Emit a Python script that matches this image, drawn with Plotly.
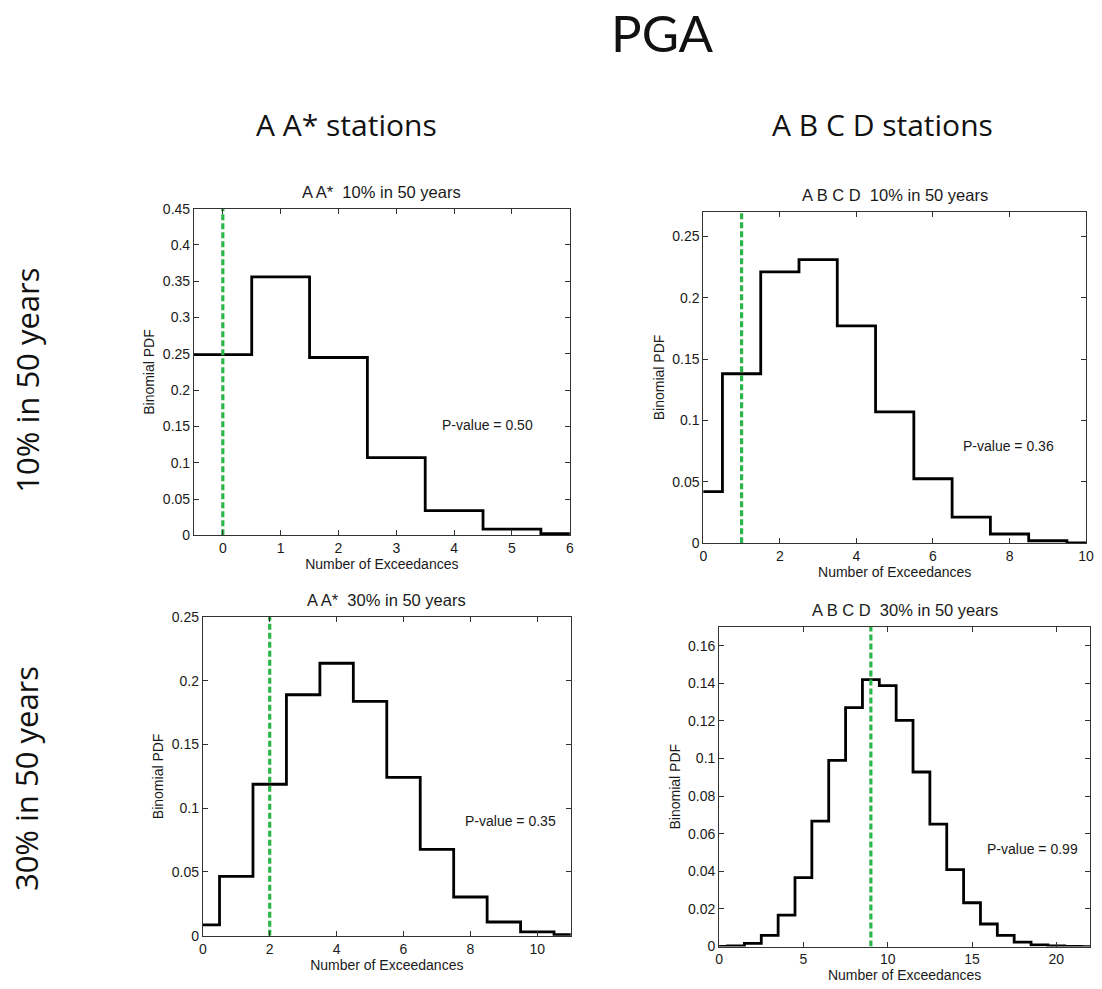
import plotly.graph_objects as go

# ---------------- data ----------------
tl_k = [0, 1, 2, 3, 4, 5, 6]
tl_pdf = [0.249, 0.356, 0.245, 0.107, 0.034, 0.0086, 0.0023]
tl_obs = 0
tl_p = "P-value = 0.50"

tr_k = [0, 1, 2, 3, 4, 5, 6, 7, 8, 9, 10]
tr_pdf = [0.042, 0.138, 0.221, 0.231, 0.177, 0.107, 0.0525, 0.0213, 0.0075, 0.002, 0.0003]
tr_obs = 1
tr_p = "P-value = 0.36"

bl_k = [0, 1, 2, 3, 4, 5, 6, 7, 8, 9, 10, 11]
bl_pdf = [0.0085, 0.0466, 0.1188, 0.189, 0.2137, 0.1838, 0.1242, 0.0678, 0.0304, 0.0108, 0.003, 0.0008]
bl_obs = 2
bl_p = "P-value = 0.35"

br_k = list(range(0, 23))
br_pdf = [0.0001, 0.0004, 0.0017, 0.0059, 0.0167, 0.0367, 0.0667, 0.099, 0.127, 0.1419,
          0.1387, 0.1203, 0.0928, 0.0651, 0.0409, 0.0233, 0.012, 0.0059, 0.0024, 0.0009,
          0.0003, 0.0001, 0.0]
br_obs = 9
br_p = "P-value = 0.99"

titles = ["A A*  10% in 50 years", "A B C D  10% in 50 years",
          "A A*  30% in 50 years", "A B C D  30% in 50 years"]

tl_yticks = [0, 0.05, 0.1, 0.15, 0.2, 0.25, 0.3, 0.35, 0.4, 0.45]
tl_ylabels = ["0", "0.05", "0.1", "0.15", "0.2", "0.25", "0.3", "0.35", "0.4", "0.45"]
tr_yticks = [0, 0.05, 0.1, 0.15, 0.2, 0.25]
tr_ylabels = ["0", "0.05", "0.1", "0.15", "0.2", "0.25"]
bl_yticks = [0, 0.05, 0.1, 0.15, 0.2, 0.25]
bl_ylabels = ["0", "0.05", "0.1", "0.15", "0.2", "0.25"]
br_yticks = [0, 0.02, 0.04, 0.06, 0.08, 0.1, 0.12, 0.14, 0.16]
br_ylabels = ["0", "0.02", "0.04", "0.06", "0.08", "0.1", "0.12", "0.14", "0.16"]

tl_xticks = [0, 1, 2, 3, 4, 5, 6]
tr_xticks = [0, 2, 4, 6, 8, 10]
bl_xticks = [0, 2, 4, 6, 8, 10]
br_xticks = [0, 5, 10, 15, 20]

# ---------------- layout ----------------
W, H = 1102, 989
FONT = "Liberation Sans, Arial, sans-serif"
HFONT = "Open Sans, Lato, sans-serif"
PFONT = "Lato, Open Sans, sans-serif"
GREEN = "#2bb64a"
TXT = "#1a1a1a"

panels = [
    # k, pdf, obs, ptext, px(data), py(data), xrange, yrange, yticks, ylabels, xticks, box(px: l,r,t,b)
    (tl_k, tl_pdf, tl_obs, tl_p, 3.75, 0.152, [-0.5, 6], [0, 0.45], tl_yticks, tl_ylabels, tl_xticks, (192, 572, 204, 536)),
    (tr_k, tr_pdf, tr_obs, tr_p, 6.74, 0.079, [0, 10], [0, 0.27], tr_yticks, tr_ylabels, tr_xticks, (707, 1094, 207, 544)),
    (bl_k, bl_pdf, bl_obs, bl_p, 7.78, 0.090, [0, 11], [0, 0.25], bl_yticks, bl_ylabels, bl_xticks, (201, 573, 619, 943)),
    (br_k, br_pdf, br_obs, br_p, 15.78, 0.0518, [0, 22], [0, 0.17], br_yticks, br_ylabels, br_xticks, (723, 1098, 629, 954)),
]

fig = go.Figure()
annotations = []
for i, (k, pdf, obs, ptxt, px, py, xr, yr, yt, yl, xt, box) in enumerate(panels):
    n = "" if i == 0 else str(i + 1)
    xa, ya = "x" + n, "y" + n
    l, r, t, b = box
    # step outline from bin edges
    xs = [kk - 0.5 for kk in k] + [k[-1] + 0.5]
    ys = list(pdf) + [pdf[-1]]
    fig.add_trace(go.Scatter(x=xs, y=ys, mode="lines", line=dict(color="black", width=2.8, shape="hv"),
                             xaxis=xa, yaxis=ya, showlegend=False, hoverinfo="skip", cliponaxis=True))
    fig.add_trace(go.Scatter(x=[obs, obs], y=[yr[0], yr[1]], mode="lines",
                             line=dict(color=GREEN, width=3.2, dash="6px,3px"),
                             xaxis=xa, yaxis=ya, showlegend=False, hoverinfo="skip"))
    axcommon = dict(showline=True, linecolor="#333333", linewidth=1, mirror="ticks", ticks="inside",
                    ticklen=5, tickcolor="#333333", showgrid=False, zeroline=False,
                    tickfont=dict(family=FONT, size=14, color=TXT))
    fig.layout["xaxis" + n] = dict(axcommon, domain=[l / W, r / W], range=xr, anchor=ya,
                                   tickvals=xt, ticktext=[str(v) for v in xt],
                                   title=dict(text="Number of Exceedances", standoff=2,
                                              font=dict(family=FONT, size=14, color=TXT)))
    fig.layout["yaxis" + n] = dict(axcommon, domain=[1 - b / H, 1 - t / H], range=yr, anchor=xa,
                                   tickvals=yt, ticktext=yl,
                                   title=dict(text="Binomial PDF", standoff=4,
                                              font=dict(family=FONT, size=14, color=TXT)))
    annotations.append(dict(x=px, y=py, xref=xa, yref=ya, text=ptxt, showarrow=False, xanchor="left",
                            yanchor="middle", font=dict(family=FONT, size=14, color=TXT)))
    annotations.append(dict(x=(l + r) / 2 / W, y=1 - (t - 17) / H, xref="paper", yref="paper",
                            text=titles[i], showarrow=False, xanchor="center", yanchor="middle",
                            font=dict(family=FONT, size=16.5, color=TXT)))

# headers
annotations += [
    dict(x=666 / W, y=1 - 25 / H, xref="paper", yref="paper", text="PGA", showarrow=False,
         xanchor="center", yanchor="middle", font=dict(family=PFONT, size=51, color="#111111")),
    dict(x=346 / W, y=1 - 118 / H, xref="paper", yref="paper", text="A A* stations", showarrow=False,
         xanchor="center", yanchor="middle", font=dict(family=HFONT, size=30, color="#111111")),
    dict(x=888 / W, y=1 - 118 / H, xref="paper", yref="paper", text="A B C D stations", showarrow=False,
         xanchor="center", yanchor="middle", font=dict(family=HFONT, size=30, color="#111111")),
    dict(x=23 / W, y=1 - 378 / H, xref="paper", yref="paper", text="10% in 50 years", showarrow=False,
         textangle=-90, xanchor="center", yanchor="middle", font=dict(family=HFONT, size=31, color="#111111")),
    dict(x=23 / W, y=1 - 783 / H, xref="paper", yref="paper", text="30% in 50 years", showarrow=False,
         textangle=-90, xanchor="center", yanchor="middle", font=dict(family=HFONT, size=31, color="#111111")),
]

fig.update_layout(width=W, height=H, margin=dict(l=0, r=0, t=0, b=0),
                  paper_bgcolor="white", plot_bgcolor="white", annotations=annotations,
                  showlegend=False)

fig.write_html("out.html")
